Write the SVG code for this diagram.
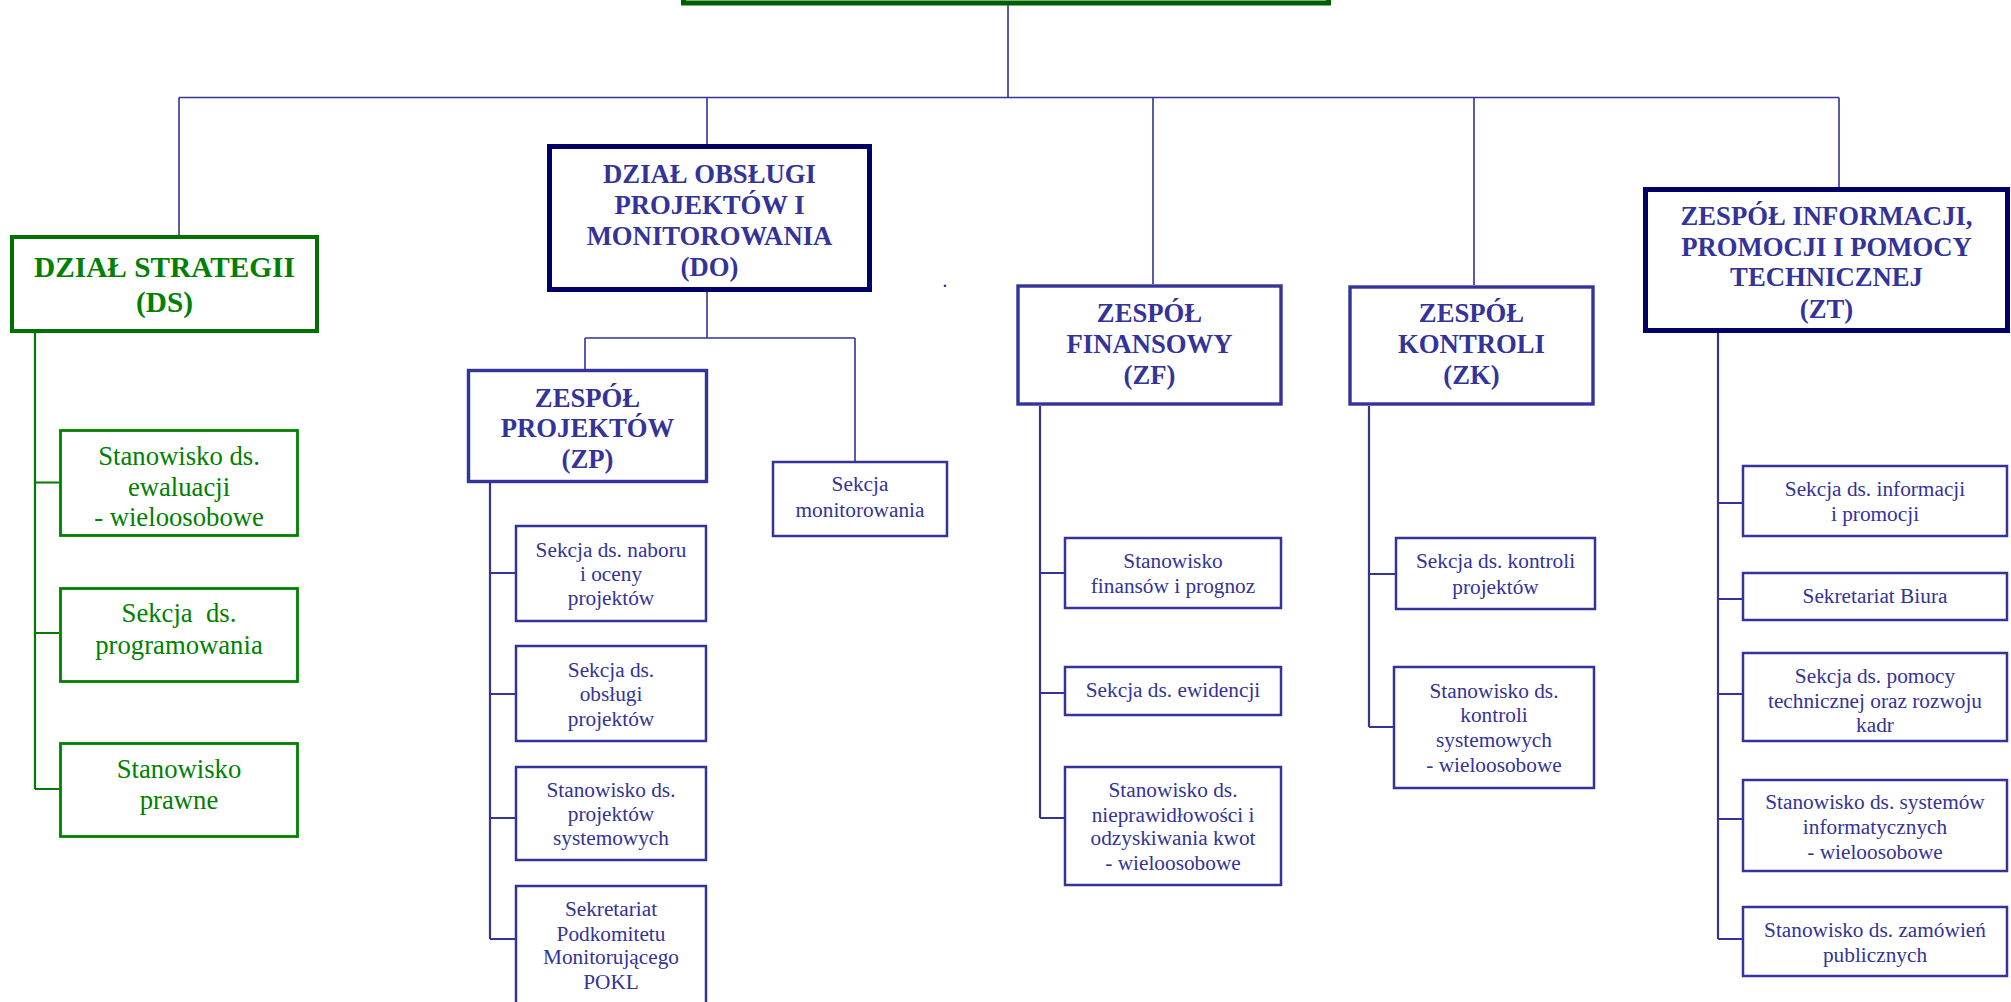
<svg xmlns="http://www.w3.org/2000/svg" width="2011" height="1002" viewBox="0 0 2011 1002">
<style>
.bg{fill:#ffffff}
.conn{fill:none;stroke:#333399;stroke-width:1.6}
.conn2{fill:none;stroke:#333399;stroke-width:2.2}
.gconn{fill:none;stroke:#007a00;stroke-width:2.2}
.top{fill:#ffffff;stroke:#006000;stroke-width:5}
.ds{fill:#ffffff;stroke:#007000;stroke-width:4}
.navy{fill:#ffffff;stroke:#000066;stroke-width:5}
.team{fill:#ffffff;stroke:#333399;stroke-width:3.4}
.sub{fill:#ffffff;stroke:#333399;stroke-width:2.5}
.gsub{fill:#ffffff;stroke:#008000;stroke-width:2.8}
text{font-family:"Liberation Serif","Times New Roman",serif;text-anchor:middle}
.hb{font-weight:bold;font-size:26.7px;fill:#333399}
.hg{font-weight:bold;font-size:29.3px;fill:#008000}
.t{font-size:21.3px;fill:#333399}
.tg{font-size:26.7px;fill:#008000}
</style>
<rect class="bg" x="0" y="0" width="2011" height="1002"/>
<g id="connectors">
<path class="conn" d="M1008 5V97.5M179 97.5H1839M179 97.5V235M707 97.5V144M1153 97.5V284M1474 97.5V285M1839 97.5V187"/>
<path class="conn" d="M707 292V338M585 338H855M585 338V369M855 338V461"/>
<path class="gconn" d="M35 333V789M35 482.5H59M35 633H59M35 789H59"/>
<path class="conn2" d="M490 483V939M490 573H515M490 694H515M490 818H515M490 939H515"/>
<path class="conn2" d="M1040 406V818M1040 573H1064M1040 693H1064M1040 818H1064"/>
<path class="conn2" d="M1369 406V727M1369 574H1395M1369 727H1393"/>
<path class="conn2" d="M1718 333V939M1718 503H1742M1718 599H1742M1718 694H1742M1718 819H1742M1718 939H1742"/>
</g>
<g id="top"><rect class="top" x="683.5" y="-100" width="645" height="103"/></g>
<g id="ds">
<rect class="ds" x="12" y="237" width="305" height="94"/>
<text class="hg" x="164.5" y="277">DZIAŁ STRATEGII</text>
<text class="hg" x="164.5" y="312">(DS)</text>
</g>
<g id="ds-ewaluacja">
<rect class="gsub" x="60.5" y="430.5" width="237" height="105"/>
<text class="tg" x="179" y="465">Stanowisko ds.</text>
<text class="tg" x="179" y="495.5">ewaluacji</text>
<text class="tg" x="179" y="526">- wieloosobowe</text>
</g>
<g id="ds-programowanie">
<rect class="gsub" x="60.5" y="588.5" width="237" height="93"/>
<text class="tg" x="179" y="622">Sekcja&#160; ds.</text>
<text class="tg" x="179" y="654">programowania</text>
</g>
<g id="ds-prawne">
<rect class="gsub" x="60.5" y="743.5" width="237" height="93"/>
<text class="tg" x="179" y="778">Stanowisko</text>
<text class="tg" x="179" y="809">prawne</text>
</g>
<g id="do">
<rect class="navy" x="549.5" y="146.5" width="320" height="143"/>
<text class="hb" x="709.5" y="183">DZIAŁ OBSŁUGI</text>
<text class="hb" x="709.5" y="214">PROJEKTÓW I</text>
<text class="hb" x="709.5" y="245">MONITOROWANIA</text>
<text class="hb" x="709.5" y="276">(DO)</text>
</g>
<text class="t" x="945" y="287">.</text>
<g id="zp">
<rect class="team" x="468.5" y="370.5" width="238" height="111"/>
<text class="hb" x="587.5" y="407">ZESPÓŁ</text>
<text class="hb" x="587.5" y="437">PROJEKTÓW</text>
<text class="hb" x="587.5" y="468">(ZP)</text>
</g>
<g id="zp-nabor">
<rect class="sub" x="516" y="526" width="190" height="95"/>
<text class="t" x="611" y="556.5">Sekcja ds. naboru</text>
<text class="t" x="611" y="580.5">i oceny</text>
<text class="t" x="611" y="605">projektów</text>
</g>
<g id="zp-obsluga">
<rect class="sub" x="516" y="646" width="190" height="95"/>
<text class="t" x="611" y="676.5">Sekcja ds.</text>
<text class="t" x="611" y="700.5">obsługi</text>
<text class="t" x="611" y="725.5">projektów</text>
</g>
<g id="zp-systemowe">
<rect class="sub" x="516" y="767" width="190" height="93"/>
<text class="t" x="611" y="796.5">Stanowisko ds.</text>
<text class="t" x="611" y="821">projektów</text>
<text class="t" x="611" y="845">systemowych</text>
</g>
<g id="zp-sekretariat">
<rect class="sub" x="516" y="886" width="190" height="130"/>
<text class="t" x="611" y="915.5">Sekretariat</text>
<text class="t" x="611" y="940.5">Podkomitetu</text>
<text class="t" x="611" y="963.5">Monitorującego</text>
<text class="t" x="611" y="988.5">POKL</text>
</g>
<g id="do-monitorowanie">
<rect class="sub" x="773" y="462" width="174" height="74"/>
<text class="t" x="860" y="491">Sekcja</text>
<text class="t" x="860" y="516.5">monitorowania</text>
</g>
<g id="zf">
<rect class="team" x="1018" y="286" width="263" height="118"/>
<text class="hb" x="1149.5" y="322">ZESPÓŁ</text>
<text class="hb" x="1149.5" y="353">FINANSOWY</text>
<text class="hb" x="1149.5" y="384">(ZF)</text>
</g>
<g id="zf-finanse">
<rect class="sub" x="1065" y="538" width="216" height="70"/>
<text class="t" x="1173" y="567.5">Stanowisko</text>
<text class="t" x="1173" y="592.5">finansów i prognoz</text>
</g>
<g id="zf-ewidencja">
<rect class="sub" x="1065" y="667" width="216" height="48"/>
<text class="t" x="1173" y="697">Sekcja ds. ewidencji</text>
</g>
<g id="zf-nieprawidlowosci">
<rect class="sub" x="1065" y="767" width="216" height="118"/>
<text class="t" x="1173" y="796.5">Stanowisko ds.</text>
<text class="t" x="1173" y="821.5">nieprawidłowości i</text>
<text class="t" x="1173" y="844.5">odzyskiwania kwot</text>
<text class="t" x="1173" y="869.5">- wieloosobowe</text>
</g>
<g id="zk">
<rect class="team" x="1350" y="287" width="243" height="117"/>
<text class="hb" x="1471.5" y="322">ZESPÓŁ</text>
<text class="hb" x="1471.5" y="353">KONTROLI</text>
<text class="hb" x="1471.5" y="384">(ZK)</text>
</g>
<g id="zk-projekty">
<rect class="sub" x="1396" y="538" width="199" height="71"/>
<text class="t" x="1495.5" y="567.5">Sekcja ds. kontroli</text>
<text class="t" x="1495.5" y="593.5">projektów</text>
</g>
<g id="zk-systemowe">
<rect class="sub" x="1394" y="667" width="200" height="121"/>
<text class="t" x="1494" y="697.5">Stanowisko ds.</text>
<text class="t" x="1494" y="721.5">kontroli</text>
<text class="t" x="1494" y="746.5">systemowych</text>
<text class="t" x="1494" y="771.5">- wieloosobowe</text>
</g>
<g id="zt">
<rect class="navy" x="1645.5" y="189.5" width="362" height="141"/>
<text class="hb" x="1826.5" y="225">ZESPÓŁ INFORMACJI,</text>
<text class="hb" x="1826.5" y="256">PROMOCJI I POMOCY</text>
<text class="hb" x="1826.5" y="286">TECHNICZNEJ</text>
<text class="hb" x="1826.5" y="318">(ZT)</text>
</g>
<g id="zt-informacja">
<rect class="sub" x="1743" y="466" width="264" height="70"/>
<text class="t" x="1875" y="495.5">Sekcja ds. informacji</text>
<text class="t" x="1875" y="520.5">i promocji</text>
</g>
<g id="zt-sekretariat">
<rect class="sub" x="1743" y="573" width="264" height="47"/>
<text class="t" x="1875" y="603">Sekretariat Biura</text>
</g>
<g id="zt-pomoc">
<rect class="sub" x="1743" y="653" width="264" height="88"/>
<text class="t" x="1875" y="682.5">Sekcja ds. pomocy</text>
<text class="t" x="1875" y="707.5">technicznej oraz rozwoju</text>
<text class="t" x="1875" y="731.5">kadr</text>
</g>
<g id="zt-systemy">
<rect class="sub" x="1743" y="780" width="264" height="91"/>
<text class="t" x="1875" y="808.5">Stanowisko ds. systemów</text>
<text class="t" x="1875" y="833.5">informatycznych</text>
<text class="t" x="1875" y="858.5">- wieloosobowe</text>
</g>
<g id="zt-zamowienia">
<rect class="sub" x="1743" y="907" width="264" height="69"/>
<text class="t" x="1875" y="936.5">Stanowisko ds. zamówień</text>
<text class="t" x="1875" y="961.5">publicznych</text>
</g>
</svg>
